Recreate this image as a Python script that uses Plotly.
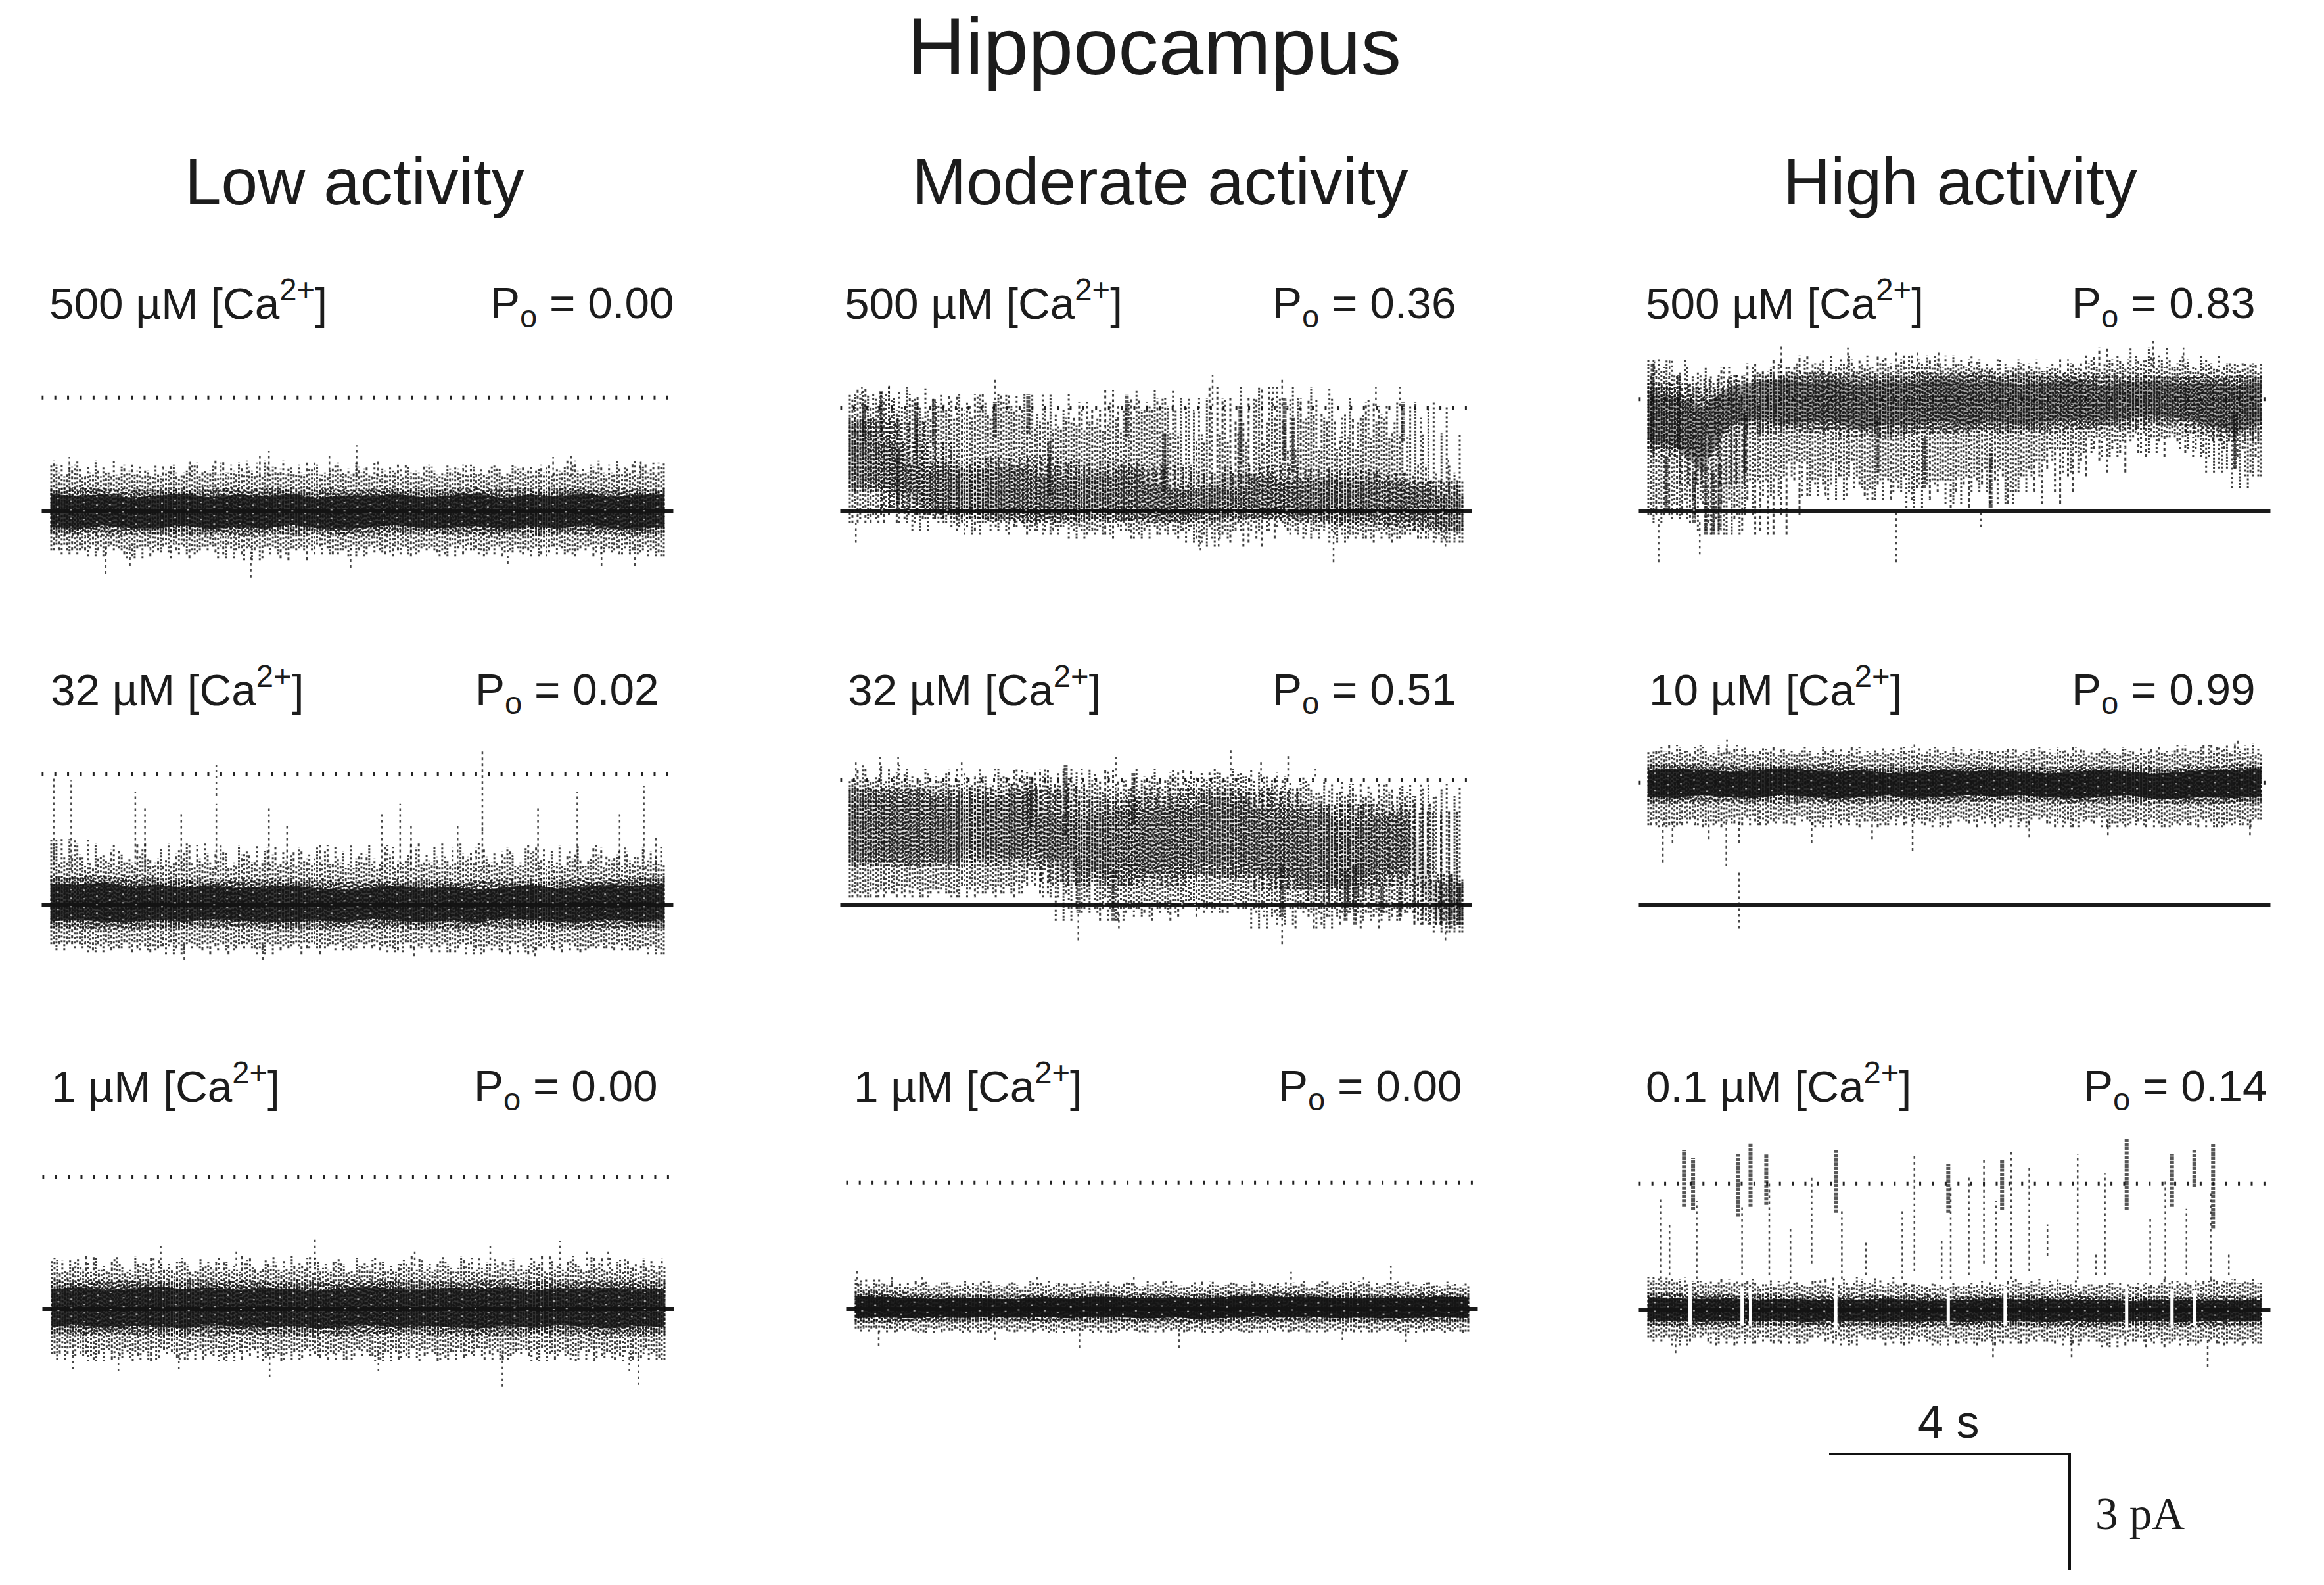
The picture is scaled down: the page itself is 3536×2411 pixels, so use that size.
import plotly.graph_objects as go

# page size and the scale bar calibration (4 s and 3 pA)
W, H = 3536, 2411
PX_PER_S = 92.0
PX_PER_PA = 59.33
T_END = 10.13
STUB_S = 0.16
Y_MIN, Y_MAX = -2.1, 4.7

COL_TITLES = ["Low activity", "Moderate activity", "High activity"]
CONC_LABELS = ["500 µM [Ca<sup>2+</sup>]", "32 µM [Ca<sup>2+</sup>]", "1 µM [Ca<sup>2+</sup>]",
               "500 µM [Ca<sup>2+</sup>]", "32 µM [Ca<sup>2+</sup>]", "1 µM [Ca<sup>2+</sup>]",
               "500 µM [Ca<sup>2+</sup>]", "10 µM [Ca<sup>2+</sup>]", "0.1 µM [Ca<sup>2+</sup>]"]
PO_VALUES = ["0.00", "0.02", "0.00", "0.36", "0.51", "0.00", "0.83", "0.99", "0.14"]
OPEN_LEVEL = [2.92, 3.37, 3.37, 2.66, 3.22, 3.24, 2.88, 3.14, 3.24]

# Low activity, 500 uM
A_HALO_HI = [1.2, 0.9, 1.3, 1.0, 1.15, 0.95, 1.05, 0.9, 1.2, 1.05, 0.95, 1.2, 1.0, 1.25, 1.05, 1.3, 1.0, 1.15, 0.95, 1.2, 1.1, 1.0, 1.25, 0.95, 1.1, 1.0, 1.15, 0.9, 1.05, 1.2, 1.0, 1.15, 0.95, 1.1, 1.2, 1.0, 1.1, 0.95, 1.15, 1.05, 1.2, 1.0, 1.3, 1.0, 1.15, 0.95, 1.1, 1.25]
A_HALO_LO = [-1.0, -0.85, -1.1, -0.95, -1.15, -0.9, -1.0, -1.2, -0.9, -1.05, -0.85, -1.1, -1.0, -0.9, -1.2, -0.95, -1.25, -0.9, -1.1, -0.95, -1.0, -0.85, -1.1, -1.0, -1.15, -0.9, -1.05, -0.9, -1.1, -0.95, -1.0, -1.15, -0.85, -1.0, -1.1, -0.9, -1.05, -0.95, -1.15, -0.9, -1.1, -1.0, -0.85, -1.05, -0.95, -1.1, -1.0, -1.15]
A_CORE_HI = [0.62, 0.55, 0.6, 0.5, 0.58, 0.62, 0.52, 0.6, 0.55, 0.62, 0.5, 0.58, 0.55, 0.6, 0.52, 0.58, 0.62, 0.5, 0.6, 0.55, 0.62, 0.52, 0.6, 0.6]
A_CORE_LO = [-0.55, -0.62, -0.5, -0.58, -0.6, -0.52, -0.62, -0.55, -0.6, -0.5, -0.58, -0.62, -0.55, -0.5, -0.6, -0.58, -0.52, -0.62, -0.55, -0.6, -0.5, -0.58, -0.62, -0.55]
A_SPIKE_T = [0.3, 2.3, 3.45, 3.6, 4.6, 5.05, 5.4, 8.3, 8.6, 9.75, 0.9, 1.3, 3.3, 4.95, 7.55, 9.1, 9.65]
A_SPIKE_LO = [0.9, 0.9, 0.9, 0.9, 0.9, 0.9, 0.9, 0.9, 0.9, 0.9, -1.6, -1.4, -1.7, -1.45, -1.35, -1.4, -1.4]
A_SPIKE_HI = [1.4, 1.3, 1.5, 1.55, 1.45, 1.7, 1.3, 1.4, 1.45, 1.35, -0.9, -0.9, -0.9, -0.9, -0.9, -0.9, -0.9]

# Low activity, 32 uM
B_HALO_HI = [1.7, 1.25, 1.6, 1.1, 1.3, 1.0, 1.2, 1.45, 1.1, 1.6, 1.2, 1.0, 1.35, 1.55, 1.1, 1.4, 1.0, 1.3, 1.15, 1.5, 1.05, 1.4, 1.2, 1.55, 1.1, 0.95, 1.3, 1.05, 1.5, 1.15, 1.6, 1.1, 1.25, 1.0, 1.35, 1.5, 1.1, 1.4, 1.0, 1.55, 1.2, 1.0, 1.3, 1.15, 1.5, 1.25, 1.4, 1.05]
B_HALO_LO = [-1.0, -1.15, -0.95, -1.1, -1.2, -1.05, -1.1, -0.95, -1.15, -1.05, -1.25, -1.0, -1.1, -0.95, -1.15, -1.0, -1.1, -1.25, -1.0, -1.05, -0.95, -1.1, -1.0, -1.15, -1.1, -0.95, -1.05, -1.2, -0.95, -1.1, -1.0, -1.2, -1.0, -1.25, -1.05, -1.15, -0.95, -1.2, -1.05, -1.1, -0.95, -1.15, -1.05, -1.1, -1.0, -1.15, -1.05, -1.25]
B_CORE_HI = [0.75, 0.7, 0.78, 0.65, 0.7, 0.62, 0.68, 0.6, 0.65, 0.7, 0.6, 0.55, 0.62, 0.68, 0.6, 0.65, 0.55, 0.62, 0.7, 0.6, 0.65, 0.7, 0.68, 0.75]
B_CORE_LO = [-0.6, -0.55, -0.62, -0.6, -0.55, -0.6, -0.52, -0.55, -0.6, -0.62, -0.55, -0.6, -0.5, -0.58, -0.62, -0.55, -0.6, -0.5, -0.55, -0.62, -0.58, -0.55, -0.6, -0.58]
B_SPIKE_T = [0.04, 0.33, 1.39, 1.55, 2.15, 2.73, 2.73, 3.6, 3.9, 5.47, 5.77, 5.95, 6.72, 7.13, 7.13, 8.05, 8.7, 9.4, 9.8, 10.0, 3.5, 6.0, 2.2, 8.0]
B_SPIKE_LO = [0.9, 0.9, 0.9, 0.9, 0.9, 2.8, 0.9, 0.9, 0.9, 0.9, 0.9, 0.9, 0.9, 1.9, 0.9, 0.9, 0.9, 0.9, 0.9, 0.9, -1.4, -1.3, -1.4, -1.3]
B_SPIKE_HI = [3.3, 3.2, 2.9, 2.5, 2.4, 3.6, 2.6, 2.5, 2.1, 2.4, 2.6, 2.1, 2.1, 3.95, 2.0, 2.5, 2.9, 2.4, 3.05, 1.8, -1.0, -1.0, -1.0, -1.0]

# Low activity, 1 uM
C_HALO_HI = [1.25, 1.0, 1.3, 0.95, 1.1, 1.35, 1.0, 1.2, 0.95, 1.15, 1.3, 1.0, 1.2, 0.95, 1.1, 1.25, 1.0, 1.35, 1.05, 1.2, 0.95, 1.15, 1.3, 1.0, 1.2, 0.95, 1.1, 1.25, 1.0, 1.15, 1.35, 0.95, 1.2, 1.05, 1.3, 1.0, 1.15, 1.25, 0.95, 1.1, 1.35, 1.0, 1.2, 1.05, 1.3, 0.95, 1.25, 1.1]
C_HALO_LO = [-1.15, -1.3, -1.0, -1.2, -1.35, -1.05, -1.25, -1.1, -1.3, -1.0, -1.15, -1.3, -1.05, -1.2, -1.35, -1.1, -1.0, -1.25, -1.15, -1.3, -1.05, -1.2, -1.1, -1.3, -1.0, -1.2, -1.35, -1.1, -1.25, -1.0, -1.15, -1.3, -1.1, -1.2, -1.0, -1.3, -1.15, -1.05, -1.35, -1.1, -1.2, -1.3, -1.0, -1.25, -1.1, -1.35, -1.15, -1.3]
C_CORE_HI = [0.7, 0.75, 0.68, 0.72, 0.78, 0.7, 0.74, 0.68, 0.75, 0.7, 0.66, 0.72, 0.76, 0.7, 0.68, 0.74, 0.7, 0.76, 0.66, 0.72, 0.7, 0.75, 0.68, 0.72]
C_CORE_LO = [-0.65, -0.6, -0.68, -0.62, -0.66, -0.7, -0.6, -0.65, -0.68, -0.62, -0.7, -0.64, -0.6, -0.68, -0.62, -0.66, -0.7, -0.62, -0.68, -0.6, -0.65, -0.7, -0.62, -0.66]
C_SPIKE_T = [1.8, 3.05, 4.35, 6.0, 7.25, 8.4, 8.85, 9.2, 0.35, 1.1, 2.1, 3.6, 5.4, 7.45, 9.55, 9.7]
C_SPIKE_LO = [1.1, 1.1, 1.1, 1.1, 1.1, 1.1, 1.1, 1.1, -1.55, -1.6, -1.55, -1.75, -1.6, -2.0, -1.6, -1.95]
C_SPIKE_HI = [1.6, 1.55, 1.8, 1.55, 1.6, 1.75, 1.5, 1.55, -1.1, -1.1, -1.1, -1.1, -1.1, -1.1, -1.1, -1.1]

# Moderate activity, 500 uM
D_HALO_HI = [3.0, 3.1, 2.9, 3.2, 2.7, 2.9, 2.6, 3.0, 2.4, 2.8, 3.0, 2.7, 3.0, 2.5, 3.0, 2.6, 2.2, 2.3, 2.1, 2.4, 2.8, 2.6, 3.1, 2.7, 2.9, 2.6, 2.9, 2.0, 1.0, 1.8, 3.2, 2.9, 2.3, 2.9, 3.2, 2.4, 1.6, 2.9, 2.5, 2.3, 1.9, 2.4, 2.8, 2.7, 2.0, 1.0, 1.2, 0.8]
D_HALO_LO = [-0.3, 0.1, -0.2, -0.1, 0.0, -0.3, -0.5, -0.2, -0.3, -0.4, -0.6, -0.3, -0.5, -0.2, -0.4, -0.5, -0.6, -0.4, -0.7, -0.5, -0.6, -0.3, -0.5, -0.7, -0.4, -0.6, -0.5, -0.8, -0.9, -0.7, -0.5, -0.3, -0.5, -0.2, -0.4, -0.6, -0.7, -0.5, -0.8, -0.6, -0.7, -0.5, -0.7, -0.6, -0.5, -0.7, -0.8, -0.8]
D_CORE_HI = [2.4, 2.3, 1.8, 1.2, 1.3, 1.1, 1.4, 1.2, 0.9, 1.3, 1.1, 1.2, 0.7, 0.6, 1.0, 1.2, 0.9, 0.8, 1.1, 1.0, 0.8, 0.8, 0.7, 0.45]
D_CORE_LO = [0.6, 0.5, 0.1, -0.1, -0.2, -0.2, -0.25, -0.3, -0.2, -0.25, -0.2, -0.25, -0.3, -0.25, -0.2, -0.15, -0.2, -0.25, -0.3, -0.35, -0.25, -0.4, -0.5, -0.5]
D_BURST_T = [0.23, 0.52, 1.1, 1.39, 2.4, 2.95, 4.58, 6.46, 7.19, 7.33, 9.15, 0.8, 3.3, 5.2]
D_BURST_LO = [1.8, 1.9, 1.5, 1.7, 1.9, 2.0, 1.9, 1.2, 1.3, 1.0, 1.8, 0.2, 0.4, 0.5]
D_BURST_HI = [2.8, 3.1, 2.8, 2.9, 2.8, 3.0, 3.0, 2.7, 2.9, 2.4, 2.8, 1.6, 1.8, 2.0]
D_SPIKE_T = [0.2, 0.65, 2.4, 6.0, 7.0, 7.15, 8.7, 9.1, 9.9, 0.1, 5.8, 6.1, 8.0, 9.85]
D_SPIKE_LO = [2.7, 2.7, 2.7, 2.7, 2.7, 2.7, 2.7, 2.7, 0.5, -0.8, -1.0, -0.9, -1.3, -0.9]
D_SPIKE_HI = [3.2, 3.3, 3.4, 3.5, 3.2, 3.4, 3.2, 3.2, 1.4, -0.3, -0.4, -0.4, -0.5, -0.4]

# Moderate activity, 32 uM
E_HALO_HI = [3.2, 3.6, 3.3, 3.5, 3.2, 3.1, 3.4, 3.2, 3.1, 3.3, 3.5, 3.1, 3.3, 3.0, 3.3, 3.5, 3.4, 3.5, 2.9, 3.1, 3.0, 3.2, 3.5, 3.2, 3.0, 3.3, 3.2, 3.4, 3.5, 3.3, 3.4, 3.2, 3.3, 2.9, 3.0, 3.2, 2.9, 3.1, 2.8, 2.5, 2.9, 3.1, 2.8, 3.1, 3.0, 2.8, 0.8, 0.7]
E_HALO_LO = [0.2, 0.3, 0.2, 0.4, 0.3, 0.5, 0.2, 0.4, 0.3, 0.2, 0.5, 0.3, 0.5, 0.3, 0.6, 0.9, 0.2, -0.4, -0.1, -0.2, -0.1, -0.4, -0.1, -0.3, 0.0, -0.2, 0.0, 0.1, -0.1, -0.2, 0.1, -0.1, -0.6, -0.3, -0.5, -0.1, -0.2, -0.6, -0.3, -0.2, -0.4, -0.2, -0.4, -0.1, -0.2, -0.5, -0.7, -0.7]
E_CORE_HI = [3.0, 3.0, 2.9, 3.0, 2.8, 2.9, 3.0, 3.1, 2.3, 2.7, 2.8, 2.5, 3.0, 2.8, 2.9, 3.0, 2.5, 2.6, 2.6, 2.3, 2.6, 2.4, 0.6, 0.6]
E_CORE_LO = [1.1, 1.0, 1.1, 1.0, 1.1, 1.2, 1.0, 1.2, 0.6, 0.5, 0.7, 0.5, 0.8, 0.7, 0.8, 0.7, 0.4, 0.4, 0.1, 0.5, 0.5, 0.8, -0.5, -0.5]
E_BURST_T = [3.0, 3.57, 3.78, 4.36, 4.69, 7.15, 8.2, 8.35, 8.8, 9.1, 9.78, 9.94, 10.08]
E_BURST_LO = [2.0, 1.8, -0.2, -0.4, 2.1, -0.3, -0.4, -0.5, -0.2, -0.3, -0.5, -0.6, -0.5]
E_BURST_HI = [3.3, 3.6, 1.2, 0.9, 3.4, 1.0, 0.9, 1.0, 0.5, 0.4, 0.6, 0.8, 0.6]
E_SPIKE_T = [0.1, 0.5, 0.8, 1.85, 2.4, 4.4, 6.3, 6.8, 7.25, 7.7, 3.78, 7.15, 4.45, 9.85]
E_SPIKE_LO = [3.3, 3.3, 3.3, 3.3, 3.3, 3.3, 3.3, 3.3, 3.3, 3.3, -0.9, -1.0, -0.6, -0.9]
E_SPIKE_HI = [3.75, 3.8, 3.8, 3.7, 3.5, 3.8, 4.0, 3.7, 3.9, 3.5, -0.2, -0.2, -0.2, -0.5]

# Moderate activity, 1 uM
F_HALO_HI = [0.75, 0.6, 0.65, 0.55, 0.7, 0.6, 0.55, 0.72, 0.6, 0.68, 0.55, 0.62, 0.72, 0.58, 0.65, 0.55, 0.68, 0.6, 0.7, 0.55, 0.62, 0.72, 0.58, 0.66, 0.55, 0.6, 0.72, 0.62, 0.55, 0.7, 0.6, 0.66, 0.56, 0.72, 0.62, 0.58, 0.68, 0.55, 0.7, 0.6, 0.66, 0.72, 0.58, 0.62, 0.7, 0.55, 0.64, 0.6]
F_HALO_LO = [-0.5, -0.58, -0.48, -0.6, -0.5, -0.55, -0.62, -0.48, -0.55, -0.5, -0.6, -0.52, -0.48, -0.58, -0.5, -0.55, -0.62, -0.5, -0.56, -0.48, -0.6, -0.5, -0.55, -0.6, -0.48, -0.52, -0.58, -0.5, -0.62, -0.5, -0.55, -0.6, -0.5, -0.48, -0.58, -0.52, -0.6, -0.5, -0.55, -0.48, -0.6, -0.5, -0.56, -0.62, -0.48, -0.55, -0.52, -0.58]
F_CORE_HI = [0.45, 0.42, 0.38, 0.35, 0.38, 0.36, 0.34, 0.4, 0.36, 0.42, 0.4, 0.38, 0.4, 0.36, 0.42, 0.45, 0.4, 0.42, 0.38, 0.36, 0.4, 0.38, 0.42, 0.4]
F_CORE_LO = [-0.35, -0.32, -0.34, -0.3, -0.33, -0.3, -0.32, -0.3, -0.34, -0.3, -0.33, -0.35, -0.32, -0.36, -0.34, -0.3, -0.33, -0.3, -0.34, -0.32, -0.35, -0.33, -0.32, -0.34]
F_SPIKE_T = [0.02, 0.6, 1.1, 3.0, 4.6, 7.2, 8.4, 8.85, 0.38, 2.3, 3.7, 5.35, 8.05, 9.1]
F_SPIKE_LO = [0.6, 0.6, 0.6, 0.6, 0.6, 0.6, 0.6, 0.6, -0.95, -0.8, -1.0, -1.0, -0.8, -0.85]
F_SPIKE_HI = [1.0, 0.85, 0.9, 0.9, 0.85, 0.95, 0.9, 1.1, -0.5, -0.5, -0.5, -0.5, -0.5, -0.5]

# High activity, 500 uM
G_HALO_HI = [3.9, 3.6, 3.5, 3.7, 3.5, 3.3, 2.6, 2.8, 3.7, 3.5, 3.8, 3.6, 3.9, 3.7, 4.0, 3.8, 3.6, 3.7, 3.9, 3.7, 4.0, 3.8, 4.0, 3.7, 3.9, 3.7, 3.8, 3.9, 3.7, 3.6, 3.7, 3.8, 3.6, 3.7, 3.9, 3.8, 4.0, 4.2, 3.9, 3.7, 3.9, 4.0, 3.7, 3.8, 3.6, 3.8, 3.7, 3.8]
G_HALO_LO = [-0.1, -0.3, 0.2, -0.2, 0.3, -0.5, -0.6, -0.6, -0.1, 0.8, 0.4, 0.9, 1.3, 0.4, 0.7, 0.3, 0.9, 0.6, 0.3, 0.8, 0.5, 0.1, 0.7, 0.8, 0.2, 0.9, 0.5, 1.1, 0.2, 0.5, 0.9, 1.3, 1.6, 1.0, 1.5, 1.9, 1.4, 1.8, 2.0, 1.5, 1.9, 1.9, 1.6, 1.4, 1.0, 1.1, 0.6, 0.9]
G_CORE_HI = [3.3, 3.2, 3.0, 3.4, 3.5, 3.6, 3.5, 3.55, 3.45, 3.55, 3.5, 3.6, 3.5, 3.55, 3.45, 3.5, 3.55, 3.4, 3.5, 3.5, 3.45, 3.5, 3.45, 3.5]
G_CORE_LO = [1.6, 1.4, 0.7, 2.0, 2.2, 2.0, 2.1, 2.1, 1.9, 2.0, 2.0, 2.1, 2.0, 2.1, 2.0, 2.1, 2.2, 2.1, 2.2, 2.3, 2.2, 2.0, 1.8, 2.1]
G_BURST_T = [0.07, 0.5, 0.75, 0.95, 1.07, 1.18, 3.79, 4.56, 5.66, 9.7, 0.3, 1.6]
G_BURST_LO = [1.5, 1.6, -0.3, -0.6, -0.6, -0.5, 1.0, 0.6, 0.1, 1.1, 0.0, 1.0]
G_BURST_HI = [3.8, 3.5, 1.0, 1.2, 1.0, 1.2, 2.4, 1.9, 1.5, 2.5, 1.4, 2.5]
G_SPIKE_T = [0.1, 0.35, 2.2, 3.3, 4.1, 4.45, 4.8, 8.35, 8.85, 0.17, 0.85, 4.1, 5.5]
G_SPIKE_LO = [3.5, 3.5, 3.7, 3.7, 3.7, 3.7, 3.7, 3.7, 3.7, -1.3, -1.1, -1.3, -0.4]
G_SPIKE_HI = [3.9, 3.9, 4.25, 4.2, 4.1, 4.1, 4.1, 4.4, 4.2, -0.2, -0.2, 0.0, 0.0]

# High activity, 10 uM
H_HALO_HI = [3.95, 4.05, 3.85, 3.95, 4.1, 3.9, 4.05, 3.85, 3.95, 4.0, 3.85, 3.95, 4.05, 3.9, 3.95, 3.85, 4.0, 3.9, 4.05, 3.85, 3.95, 3.9, 4.05, 3.85, 4.0, 3.9, 3.95, 3.85, 4.0, 3.95, 4.05, 3.85, 4.0, 3.9, 3.95, 4.05, 3.85, 3.95, 3.9, 4.0, 3.85, 4.05, 3.95, 4.1, 4.0, 4.15, 4.05, 3.9]
H_HALO_LO = [2.05, 2.2, 2.0, 2.1, 2.25, 2.05, 2.15, 2.1, 2.3, 2.05, 2.2, 2.1, 2.3, 2.15, 2.0, 2.2, 2.05, 2.25, 2.15, 2.05, 2.3, 2.1, 2.2, 2.0, 2.25, 2.15, 2.3, 2.1, 2.25, 2.0, 2.2, 2.3, 2.1, 2.0, 2.15, 2.25, 2.0, 2.1, 2.05, 2.2, 2.0, 2.15, 2.05, 2.25, 2.0, 2.1, 2.05, 2.2]
H_CORE_HI = [3.6, 3.65, 3.6, 3.55, 3.6, 3.65, 3.6, 3.55, 3.6, 3.5, 3.55, 3.6, 3.55, 3.6, 3.55, 3.5, 3.55, 3.6, 3.55, 3.5, 3.55, 3.6, 3.6, 3.65]
H_CORE_LO = [2.65, 2.6, 2.7, 2.65, 2.6, 2.7, 2.65, 2.6, 2.65, 2.7, 2.6, 2.65, 2.7, 2.65, 2.7, 2.65, 2.6, 2.65, 2.7, 2.6, 2.6, 2.65, 2.6, 2.65]
H_SPIKE_T = [1.5, 1.5, 0.24, 1.29, 1.5, 4.37, 3.7, 7.6, 2.7, 6.3, 0.4, 1.0, 9.75, 1.3, 4.4, 9.7, 9.95]
H_SPIKE_LO = [0.85, -0.6, 1.1, 1.0, 1.6, 1.4, 1.7, 1.8, 1.6, 1.75, 1.6, 1.7, 4.0, 3.9, 3.9, 3.9, 1.8]
H_SPIKE_HI = [0.85, 0.9, 2.2, 2.2, 2.2, 2.2, 2.2, 2.2, 2.2, 2.2, 2.2, 2.2, 4.3, 4.25, 4.2, 4.1, 2.2]

# High activity, 0.1 uM
I_HALO_HI = [0.85, 0.8, 0.75, 0.7, 0.75, 0.65, 0.7, 0.65, 0.8, 0.7, 0.75, 0.6, 0.65, 0.7, 0.6, 0.8, 0.85, 0.7, 0.65, 0.7, 0.6, 0.65, 0.7, 0.6, 0.55, 0.6, 0.65, 0.7, 0.75, 0.65, 0.8, 0.7, 0.65, 0.6, 0.7, 0.55, 0.6, 0.65, 0.7, 0.6, 0.7, 0.65, 0.8, 0.75, 0.7, 0.8, 0.75, 0.7]
I_HALO_LO = [-0.7, -0.8, -0.65, -0.9, -0.7, -0.6, -0.85, -0.7, -0.85, -0.7, -0.8, -0.65, -0.85, -0.7, -0.6, -0.75, -0.9, -0.65, -0.75, -0.7, -0.85, -0.65, -0.8, -0.9, -0.7, -0.85, -0.75, -0.8, -0.7, -0.85, -0.65, -0.8, -0.7, -0.9, -0.7, -0.8, -0.95, -0.65, -0.8, -0.7, -0.85, -0.75, -0.9, -0.8, -0.7, -0.85, -0.75, -0.85]
I_CORE_HI = [0.45, 0.42, 0.4, 0.42, 0.38, 0.4, 0.38, 0.36, 0.38, 0.42, 0.36, 0.34, 0.38, 0.42, 0.38, 0.4, 0.36, 0.38, 0.34, 0.36, 0.38, 0.34, 0.36, 0.36]
I_CORE_LO = [-0.4, -0.38, -0.42, -0.38, -0.4, -0.38, -0.42, -0.38, -0.4, -0.42, -0.4, -0.38, -0.42, -0.38, -0.4, -0.42, -0.38, -0.42, -0.4, -0.38, -0.42, -0.38, -0.4, -0.38]
I_BURST_T = [0.59, 0.74, 1.48, 1.69, 1.95, 3.1, 4.96, 5.85, 7.91, 8.66, 9.03, 9.34]
I_BURST_LO = [2.65, 2.56, 2.4, 2.65, 2.7, 2.5, 2.5, 2.56, 2.56, 2.65, 3.16, 2.1]
I_BURST_HI = [4.1, 3.9, 4.0, 4.3, 4.0, 4.1, 3.75, 3.85, 4.4, 4.0, 4.1, 4.3]
I_SPIKE_T = [0.2, 0.35, 0.8, 1.55, 2.0, 2.35, 2.7, 3.2, 3.6, 4.2, 4.4, 4.85, 5.0, 5.3, 5.55, 5.75, 6.0, 6.3, 6.6, 7.1, 7.4, 7.55, 8.3, 8.55, 8.9, 9.3, 9.6, 0.45, 5.7, 7.0, 9.25]
I_SPIKE_LO = [0.8, 0.9, 0.8, 0.9, 0.9, 0.8, 1.2, 0.8, 0.9, 0.8, 1.0, 0.8, 0.8, 0.9, 1.2, 0.8, 0.8, 1.0, 1.4, 0.8, 0.9, 0.9, 0.9, 0.8, 0.9, 0.8, 0.9, -1.1, -1.2, -1.2, -1.45]
I_SPIKE_HI = [2.9, 2.2, 2.8, 2.7, 3.3, 2.1, 3.4, 2.6, 1.8, 2.6, 4.0, 1.8, 3.2, 3.4, 3.9, 2.8, 4.1, 3.7, 2.2, 4.0, 1.5, 3.5, 2.4, 3.3, 2.6, 3.0, 1.5, -0.6, -0.6, -0.6, -0.7]
I_GAP_T = [0.69, 1.55, 1.69, 3.1, 4.96, 5.9, 7.91, 8.66, 9.03]
I_GAP_LO = [-0.4, -0.4, -0.4, -0.5, -0.4, -0.4, -0.5, -0.4, -0.4]
I_GAP_HI = [0.7, 0.6, 0.6, 0.8, 0.5, 0.6, 0.6, 0.5, 0.5]

# where each panel sits on the page: left edge of the trace and the baseline (px)
TRACE_LEFT = [70, 70, 71, 1285, 1285, 1294, 2500, 2500, 2500]
BASELINE_Y = [770, 1369, 1983, 770, 1369, 1983, 770, 1369, 1985]

EMPTY = ([], [], [])
# last number: how black the inner band of the trace is
TRACES = [
    (A_HALO_HI, A_HALO_LO, A_CORE_HI, A_CORE_LO, (A_SPIKE_T, A_SPIKE_LO, A_SPIKE_HI), EMPTY, EMPTY, 0.85),
    (B_HALO_HI, B_HALO_LO, B_CORE_HI, B_CORE_LO, (B_SPIKE_T, B_SPIKE_LO, B_SPIKE_HI), EMPTY, EMPTY, 0.85),
    (C_HALO_HI, C_HALO_LO, C_CORE_HI, C_CORE_LO, (C_SPIKE_T, C_SPIKE_LO, C_SPIKE_HI), EMPTY, EMPTY, 0.85),
    (D_HALO_HI, D_HALO_LO, D_CORE_HI, D_CORE_LO, (D_SPIKE_T, D_SPIKE_LO, D_SPIKE_HI), (D_BURST_T, D_BURST_LO, D_BURST_HI), EMPTY, 0.1),
    (E_HALO_HI, E_HALO_LO, E_CORE_HI, E_CORE_LO, (E_SPIKE_T, E_SPIKE_LO, E_SPIKE_HI), (E_BURST_T, E_BURST_LO, E_BURST_HI), EMPTY, 0.12),
    (F_HALO_HI, F_HALO_LO, F_CORE_HI, F_CORE_LO, (F_SPIKE_T, F_SPIKE_LO, F_SPIKE_HI), EMPTY, EMPTY, 0.95),
    (G_HALO_HI, G_HALO_LO, G_CORE_HI, G_CORE_LO, (G_SPIKE_T, G_SPIKE_LO, G_SPIKE_HI), (G_BURST_T, G_BURST_LO, G_BURST_HI), EMPTY, 0.4),
    (H_HALO_HI, H_HALO_LO, H_CORE_HI, H_CORE_LO, (H_SPIKE_T, H_SPIKE_LO, H_SPIKE_HI), EMPTY, EMPTY, 0.9),
    (I_HALO_HI, I_HALO_LO, I_CORE_HI, I_CORE_LO, (I_SPIKE_T, I_SPIKE_LO, I_SPIKE_HI), (I_BURST_T, I_BURST_LO, I_BURST_HI), (I_GAP_T, I_GAP_LO, I_GAP_HI), 0.9),
]

# each bin is stippled by several close columns; a column borrows the ends of nearby bins
HALO_OFFSETS = [0, 2, -1, 3, -2]
HALO_DASHES = ["3px,3px", "4px,4px", "3px,2px", "5px,4px", "3px,4px"]
CORE_OFFSETS = [0, 1, -1, 1, 0, -1, 1, 0, -1, 0]
CORE_DASHES = ["5px,2px", "3px,2px", "6px,3px", "4px,2px", "3px,3px"]


def grid(values):
    return [i * T_END / (len(values) - 1) for i in range(len(values))]


def band(fig, hi, lo, color, ax):
    ts = grid(hi)
    fig.add_trace(go.Scatter(x=ts + ts[::-1], y=hi + lo[::-1], mode="lines", fill="toself",
                             fillcolor=color, line=dict(width=0), hoverinfo="skip", **ax))


def strokes(fig, ts, los, his, color, width, dash, ax):
    if not ts:
        return
    xs, ys = [], []
    for t, lo, hi in zip(ts, los, his):
        xs += [t, t, None]
        ys += [lo, hi, None]
    fig.add_trace(go.Scatter(x=xs, y=ys, mode="lines", connectgaps=False,
                             line=dict(color=color, width=width, dash=dash), hoverinfo="skip", **ax))


def stipple(fig, hi, lo, offsets, dashes, color, width, ax):
    ts = grid(hi)
    n = len(hi)
    dt = ts[1] / len(offsets)
    for k, off in enumerate(offsets):
        sub_t, sub_lo, sub_hi = [], [], []
        for i in range(n):
            t = ts[i] + k * dt
            if t > T_END:
                continue
            sub_t.append(t)
            sub_hi.append(hi[min(max(i + off, 0), n - 1)])
            sub_lo.append(lo[min(max(i - off, 0), n - 1)])
        strokes(fig, sub_t, sub_lo, sub_hi, color, width, dashes[k % len(dashes)], ax)


def px_x(x):
    return x / W


def px_y(y):
    return 1 - y / H


fig = go.Figure()
layout_axes = {}

for i, (halo_hi, halo_lo, core_hi, core_lo, spikes, bursts, gaps, inner_alpha) in enumerate(TRACES):
    n = i + 1
    suffix = "" if n == 1 else str(n)
    ax = dict(xaxis="x" + suffix, yaxis="y" + suffix)
    left, base = TRACE_LEFT[i], BASELINE_Y[i]

    layout_axes["xaxis" + suffix] = dict(
        visible=False, fixedrange=True, range=[-STUB_S, T_END + STUB_S],
        domain=[px_x(left - STUB_S * PX_PER_S), px_x(left + (T_END + STUB_S) * PX_PER_S)])
    layout_axes["yaxis" + suffix] = dict(
        visible=False, fixedrange=True, range=[Y_MIN, Y_MAX],
        domain=[px_y(base - Y_MIN * PX_PER_PA), px_y(base - Y_MAX * PX_PER_PA)])

    # dotted open level and solid closed level
    fig.add_trace(go.Scatter(x=[-STUB_S, T_END + STUB_S], y=[OPEN_LEVEL[i], OPEN_LEVEL[i]], mode="lines",
                             line=dict(color="#222222", width=6, dash="3px,16.4px"), hoverinfo="skip", **ax))
    fig.add_trace(go.Scatter(x=[-STUB_S, T_END + STUB_S], y=[0, 0], mode="lines",
                             line=dict(color="#1a1a1a", width=6), hoverinfo="skip", **ax))

    # sparse outer reach, denser middle, nearly solid inside
    stipple(fig, halo_hi, halo_lo, HALO_OFFSETS, HALO_DASHES, "rgba(15,15,15,0.8)", 3, ax)
    stipple(fig, core_hi, core_lo, CORE_OFFSETS, CORE_DASHES, "rgba(10,10,10,0.85)", 3, ax)
    inner_hi = [(a + b) / 2 + (a - b) * 0.36 for a, b in zip(core_hi, core_lo)]
    inner_lo = [(a + b) / 2 - (a - b) * 0.36 for a, b in zip(core_hi, core_lo)]
    band(fig, inner_hi, inner_lo, f"rgba(20,20,20,{inner_alpha})", ax)

    strokes(fig, bursts[0], bursts[1], bursts[2], "rgba(15,15,15,0.7)", 6, "5px,1.5px", ax)
    strokes(fig, spikes[0], spikes[1], spikes[2], "rgba(25,25,25,0.8)", 2.5, "4px,5px", ax)

    # pale flecks through the band, then closed gaps in the burst panel
    halo_t = grid(halo_hi)
    step = halo_t[1] / 2
    strokes(fig, [t + step for t in halo_t[:-1]], halo_lo[:-1], halo_hi[:-1],
            "rgba(255,255,255,0.6)", 3, "2px,11px", ax)
    strokes(fig, gaps[0], gaps[1], gaps[2], "#ffffff", 5, "solid", ax)

# scale bar, on its own axes in its own units
SCALE_T = [0, 4, 4]
SCALE_PA = [0, 0, -3]
fig.add_trace(go.Scatter(x=SCALE_T, y=SCALE_PA, mode="lines", line=dict(color="#111111", width=8),
                         cliponaxis=False, hoverinfo="skip", xaxis="x10", yaxis="y10"))
layout_axes["xaxis10"] = dict(visible=False, fixedrange=True, range=[0, 4],
                              domain=[px_x(3143 - 4 * PX_PER_S), px_x(3143)])
layout_axes["yaxis10"] = dict(visible=False, fixedrange=True, range=[-3, 0],
                              domain=[px_y(2202 + 3 * PX_PER_PA), px_y(2202)])


def label(x, y, text, size, anchor="left", family="Liberation Sans", color="#1c1c1c"):
    return dict(x=px_x(x), y=px_y(y), xref="paper", yref="paper", text=text, showarrow=False,
                xanchor=anchor, yanchor="bottom", align=anchor, borderpad=0,
                font=dict(family=family, size=size, color=color))


annotations = [label(1748, 132, "Hippocampus", 123, "center")]
for x, text in zip([531, 1757, 2974], COL_TITLES):
    annotations.append(label(x, 325, text, 100, "center"))

CONC_BASE = [480, 1068, 1671]
CONC_LEFT = [66, 68, 69, 1276, 1281, 1290, 2495, 2500, 2495]
PO_LEFT = [737, 714, 712, 1927, 1927, 1936, 3143, 3143, 3161]
for i in range(9):
    base = CONC_BASE[i % 3]
    annotations.append(label(CONC_LEFT[i], base + 12, CONC_LABELS[i], 67.5))
    annotations.append(label(PO_LEFT[i], base + 21, "P<sub>o</sub> = " + PO_VALUES[i], 67.5))

annotations.append(label(2956, 2195, "4 s", 70, "center"))
annotations.append(label(3179, 2334, "3 pA", 69, "left", family="Liberation Serif"))

fig.update_layout(
    width=W, height=H, showlegend=False, plot_bgcolor="white", paper_bgcolor="white",
    margin=dict(l=0, r=0, t=0, b=0), annotations=annotations, **layout_axes)

fig.write_html("out.html")
